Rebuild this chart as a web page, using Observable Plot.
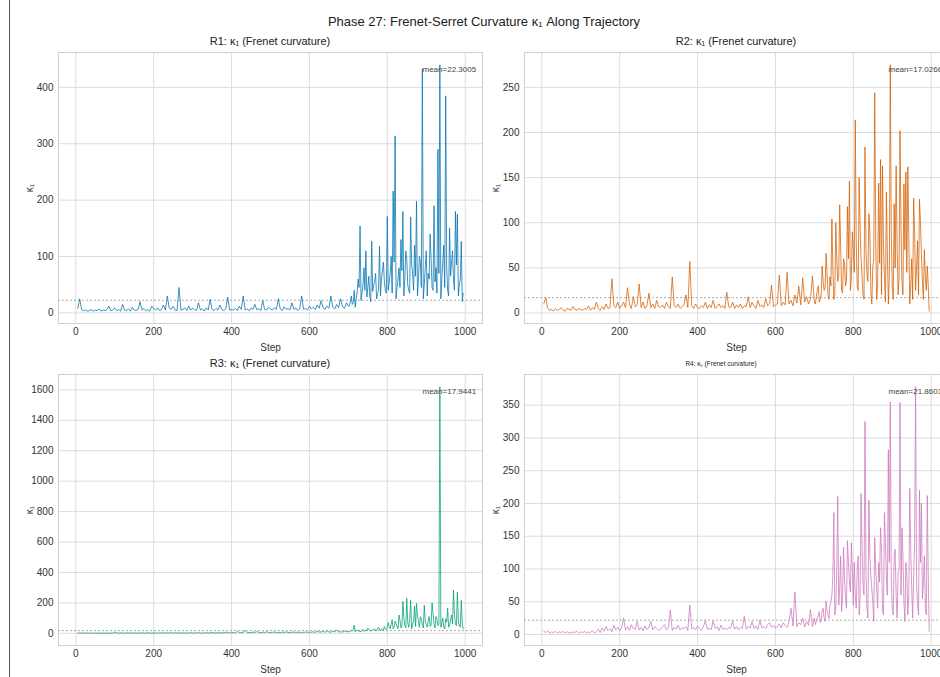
<!DOCTYPE html>
<html><head><meta charset="utf-8">
<script src="https://cdn.jsdelivr.net/npm/d3@7"></script>
<script src="https://cdn.jsdelivr.net/npm/@observablehq/plot@0.6"></script>
<style>
body{margin:0;background:#fff;}
#fig{position:relative;width:940px;height:677px;overflow:hidden;background:#fff;font-family:"Liberation Sans",Arial,sans-serif;color:#222;}
.t{position:absolute;transform:translateX(-50%);white-space:nowrap;line-height:1;}
.p{position:absolute;}
#border{position:absolute;left:9px;top:0;width:1px;height:677px;background:#555;}
</style></head>
<body><div id="fig"><div id="border"></div></div>
<script>
// step index: every 5 steps up to 700, every 2.5 steps after
const steps = d3.range(5, 701, 5).concat(d3.range(702.5, 996, 2.5));

const r1 = [
 8,25,6,4,5,3,4,6,3,5,4,7,3,5,4,6,12,4,5,9,
 4,6,3,15,5,4,7,3,10,5,4,6,20,5,8,4,6,3,12,7,
 5,9,4,6,14,5,30,8,6,12,5,4,45,5,6,9,4,12,5,8,
 6,4,18,5,7,3,9,5,24,6,4,8,5,14,6,4,7,28,5,6,
 5,8,4,12,6,30,5,7,4,9,6,15,5,8,4,22,6,5,10,7,
 5,9,6,25,7,4,11,6,8,5,18,6,9,4,7,30,6,8,5,12,
 7,10,6,14,8,22,9,6,12,8,30,10,7,15,9,25,11,8,18,12,
 12,20,30,15,18,40,10,25,35,60,45,154,22,35,50,80,40,110,28,45,
 65,30,20,127,38,50,55,70,25,35,40,118,30,60,75,90,55,40,35,171,
 40,55,70,100,35,216,90,314,25,45,60,80,45,130,75,180,30,60,110,95,
 50,40,35,170,85,70,40,120,65,198,30,60,100,90,45,433,25,50,80,110,
 30,70,60,140,95,45,40,190,55,80,35,290,70,440,25,60,90,120,45,385,
 80,40,30,150,65,90,110,60,40,180,85,175,30,50,60,127,20,35
];
const r2 = [
 10,17,5,3,4,2,5,3,4,6,3,2,5,4,3,7,4,3,5,4,
 3,5,4,8,3,6,4,12,5,3,7,4,10,5,6,38,8,6,12,5,
 8,12,6,28,10,5,18,7,9,32,6,12,5,8,22,6,10,5,14,7,
 6,9,5,12,7,5,40,8,6,10,5,7,9,20,6,57,8,5,10,6,
 5,8,6,12,5,9,6,14,5,7,10,6,8,5,23,7,6,12,5,9,
 6,10,5,8,7,18,6,12,8,5,14,7,9,6,16,8,10,31,7,9,
 10,42,8,12,9,45,10,14,8,20,11,30,9,39,12,18,10,15,41,12,
 10,18,25,30,12,15,20,52,35,25,28,66,45,20,15,40,30,104,50,15,
 20,100,60,35,40,120,75,25,22,60,55,30,35,118,60,146,25,40,90,70,
 45,214,80,30,25,150,95,60,40,20,15,184,70,45,35,110,90,25,10,50,
 60,244,85,15,30,144,55,170,20,163,75,40,12,134,65,10,40,275,90,30,
 15,121,50,163,75,20,40,202,95,35,20,143,70,156,45,162,85,10,30,60,
 15,127,90,25,50,80,20,126,100,65,35,15,70,40,25,52,30,2
];
const r3 = [
 2,1,2,1,3,1,2,1,2,1,2,1,2,1,1,2,1,2,1,8,
 2,1,3,2,1,2,4,1,2,3,1,2,1,3,2,1,4,2,1,3,
 2,3,1,4,2,1,3,2,5,1,3,2,4,1,2,3,1,2,4,2,
 3,2,5,1,3,2,4,2,3,6,2,4,3,2,5,3,8,4,2,6,
 4,3,12,5,4,7,18,5,6,4,9,5,12,6,4,8,5,10,6,4,
 6,9,5,7,4,8,6,10,5,7,6,9,5,8,6,7,5,9,6,8,
 7,10,6,15,8,9,12,7,18,9,8,14,10,20,9,11,8,15,10,12,
 10,12,18,15,25,53,12,14,22,18,15,12,10,20,25,16,14,22,18,35,
 28,18,15,20,22,25,30,18,16,33,40,22,18,28,26,20,45,30,25,40,
 70,40,30,60,90,30,40,80,65,45,30,120,85,35,40,210,100,50,35,230,
 70,40,95,217,30,60,80,180,45,197,120,75,40,110,90,55,35,184,75,60,
 40,80,110,45,55,200,130,60,35,110,90,50,60,1620,40,70,100,40,30,95,
 75,165,40,55,90,120,60,283,120,60,50,270,80,45,40,217,60,30
];
const r4 = [
 5,3,6,2,4,3,5,2,4,3,5,2,4,3,2,4,3,5,2,4,
 3,5,2,4,3,6,2,4,8,3,10,5,12,6,9,4,14,7,11,6,
 10,25,7,12,6,15,9,8,20,7,11,6,13,8,10,20,7,12,9,6,
 8,12,15,7,10,37,6,11,8,14,7,10,9,12,6,45,8,11,7,13,
 9,6,12,21,8,10,7,21,9,12,6,14,8,10,7,11,9,21,8,12,
 7,11,9,28,8,12,10,20,9,13,8,22,10,12,9,15,18,11,14,10,
 12,16,10,18,14,11,20,40,13,65,12,18,15,25,11,20,14,38,12,25,
 15,20,25,28,35,18,22,35,40,25,20,51,38,30,25,45,50,60,90,186,
 30,40,100,211,45,70,120,35,60,133,85,55,40,143,110,80,65,140,95,45,
 110,60,40,100,120,30,55,215,130,75,60,325,95,40,25,205,120,90,70,50,
 20,148,100,70,40,110,80,163,125,35,30,186,140,85,60,282,110,355,90,40,
 30,120,130,60,25,95,100,354,60,163,120,50,20,110,90,30,60,223,130,70,
 25,90,140,378,80,45,30,220,110,200,55,80,120,40,30,212,90,5
];

const series = [r1, r2, r3, r4];
const means = [22.3005, 17.0266, 17.9441, 21.8601];
const meanLabels = ["mean=22.3005", "mean=17.0266", "mean=17.9441", "mean=21.8601"];
const titles = ["R1: κ₁ (Frenet curvature)", "R2: κ₁ (Frenet curvature)", "R3: κ₁ (Frenet curvature)", "R4: κ₁ (Frenet curvature)"];
const colors = ["#0173b2", "#d55e00", "#029e73", "#cc78bc"];
const xTicks = [0, 200, 400, 600, 800, 1000];
const yTicks = [
  [0, 100, 200, 300, 400],
  [0, 50, 100, 150, 200, 250],
  [0, 200, 400, 600, 800, 1000, 1200, 1400, 1600],
  [0, 50, 100, 150, 200, 250, 300, 350]
];
const suptitle = "Phase 27: Frenet-Serret Curvature κ₁ Along Trajectory";

const fig = document.getElementById("fig");
const font = '"Liberation Sans", Arial, sans-serif';

function addText(txt, cx, top, size){
  const d = document.createElement("div");
  d.className = "t"; d.textContent = txt;
  d.style.left = cx + "px"; d.style.top = top + "px"; d.style.fontSize = size + "px";
  fig.appendChild(d);
}

function pad(a, b){ const r = b - a; return [a - 0.05*r, b + 0.05*r]; }

function panel(i){
  const vals = series[i];
  const data = steps.map((s, j) => ({step: s, k: vals[j]}));
  return Plot.plot({
    width: 480, height: 310,
    marginLeft: 48, marginRight: 8, marginTop: 5, marginBottom: 34,
    style: {fontFamily: font, fontSize: "10px", color: "#333", background: "transparent", overflow: "visible"},
    x: {domain: pad(d3.min(steps), d3.max(steps))},
    y: {domain: pad(d3.min(vals), d3.max(vals))},
    marks: [
      Plot.gridX(xTicks, {stroke: "#dcdcdc", strokeOpacity: 1, strokeWidth: 1}),
      Plot.gridY(yTicks[i], {stroke: "#dcdcdc", strokeOpacity: 1, strokeWidth: 1}),
      Plot.frame({stroke: "#d0d0d0"}),
      Plot.ruleY([means[i]], {stroke: "#999", strokeDasharray: "2,2", strokeWidth: 0.8}),
      Plot.lineY(data, {x: "step", y: "k", stroke: colors[i], strokeWidth: 0.9, strokeOpacity: 0.85}),
      Plot.axisX(xTicks, {tickSize: 0, tickPadding: 4, tickFormat: d => String(d), label: "Step", labelAnchor: "center", labelArrow: "none", labelOffset: 27}),
      Plot.axisY(yTicks[i], {tickSize: 0, tickPadding: 5, tickFormat: d => String(d), label: "κ₁", labelAnchor: "center", labelArrow: "none", labelOffset: 33}),
      Plot.text([meanLabels[i]], {frameAnchor: "top-left", dx: 364, dy: 14, textAnchor: "start", fontSize: 8, fill: "#444"})
    ]
  });
}

const pos = [[10, 47], [476, 47], [10, 369], [476, 369]];
const titlePos = [[270, 36, 11], [736, 36, 11], [270, 358, 11], [721, 361, 6.5]];
for (let i = 0; i < 4; i++){
  const svg = panel(i);
  svg.classList.add("p");
  svg.style.left = pos[i][0] + "px";
  svg.style.top = pos[i][1] + "px";
  fig.appendChild(svg);
  addText(titles[i], titlePos[i][0], titlePos[i][1], titlePos[i][2]);
}
addText(suptitle, 484, 15, 13);
</script>
</body></html>
